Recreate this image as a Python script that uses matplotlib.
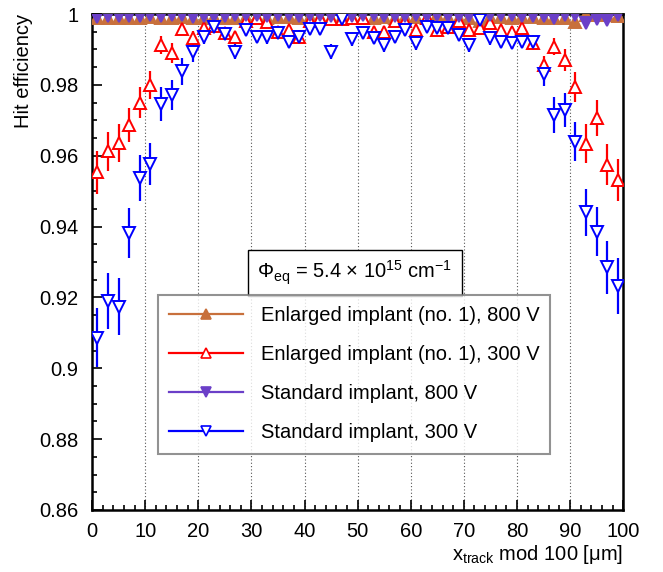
import numpy as np
import matplotlib.pyplot as plt
from matplotlib.ticker import MultipleLocator, FuncFormatter

plt.rcParams['font.family'] = ['Liberation Sans', 'DejaVu Sans']
plt.rcParams['mathtext.fontset'] = 'custom'
plt.rcParams['mathtext.rm'] = 'Liberation Sans'
plt.rcParams['mathtext.it'] = 'Liberation Sans:italic'

# bin centres, 2 um bins
x = np.arange(1, 100, 2)

enl_800 = [0.9988, 0.9988, 0.9989, 0.9988, 0.9990, 0.9992, 0.9989, 0.9990, 0.9991, 0.9988,
           0.9990, 0.9992, 0.9989, 0.9990, 0.9991, 0.9992, 0.9990, 0.9991, 0.9992, 0.9990,
           0.9991, 0.9992, 0.9990, 0.9991, 0.9992, 0.9990, 0.9988, 0.9991, 0.9988, 0.9991,
           0.9992, 0.9990, 0.9998, 0.9991, 0.9990, 0.9990, 0.9980, 0.9991, 0.9992, 0.9990,
           0.9991, 0.9991, 0.9990, 0.9989, 0.9990, 0.9978, 0.9997, 0.9997, 0.9997, 0.9995]
enl_800_err = [0.0003] * 50

enl_300 = [0.9553, 0.9612, 0.9636, 0.9686, 0.9750, 0.9800, 0.9913, 0.9889, 0.9958, 0.9931,
           0.9960, 0.9966, 0.9946, 0.9936, 0.9980, 0.9988, 0.9978, 0.9950, 0.9955, 0.9936,
           0.9980, 0.9988, 0.9985, 0.9985, 0.9988, 0.9988, 0.9950, 0.9950, 0.9980, 0.9980,
           0.9955, 0.9988, 0.9955, 0.9963, 0.9980, 0.9955, 0.9960, 0.9974, 0.9955, 0.9948,
           0.9960, 0.9917, 0.9856, 0.9908, 0.9870, 0.9794, 0.9634, 0.9706, 0.9575, 0.9532]
enl_300_err = [0.0060, 0.0054, 0.0054, 0.0048, 0.0044, 0.0040, 0.0025, 0.0028, 0.0018, 0.0020,
               0.0016, 0.0015, 0.0016, 0.0016, 0.0012, 0.0012, 0.0012, 0.0015, 0.0015, 0.0016,
               0.0012, 0.0012, 0.0012, 0.0012, 0.0012, 0.0012, 0.0015, 0.0015, 0.0012, 0.0012,
               0.0015, 0.0012, 0.0015, 0.0014, 0.0012, 0.0015, 0.0014, 0.0013, 0.0015, 0.0015,
               0.0014, 0.0018, 0.0026, 0.0025, 0.0030, 0.0042, 0.0055, 0.0050, 0.0058, 0.0060]

std_800 = [0.9992, 0.9993, 0.9993, 0.9993, 0.9995, 0.9997, 0.9994, 0.9997, 0.9997, 0.9992,
           0.9995, 0.9995, 0.9994, 0.9996, 0.9996, 0.9996, 0.9994, 0.9997, 0.9997, 0.9995,
           0.9996, 0.9997, 0.9995, 0.9996, 0.9994, 0.9996, 0.9996, 0.9993, 0.9995, 0.9994,
           0.9996, 0.9995, 0.9996, 0.9994, 0.9993, 0.9993, 0.9990, 0.9996, 0.9996, 0.9996,
           0.9994, 0.9994, 0.9994, 0.9988, 0.9997, 0.9996, 0.9976, 0.9985, 0.9983, 0.9997]
std_800_err = [0.0003] * 50

std_300 = [0.9086, 0.9190, 0.9174, 0.9382, 0.9537, 0.9577, 0.9746, 0.9772, 0.9838, 0.9894,
           0.9936, 0.9964, 0.9944, 0.9894, 0.9955, 0.9936, 0.9934, 0.9946, 0.9922, 0.9936,
           0.9957, 0.9957, 0.9894, 0.9985, 0.9929, 0.9946, 0.9932, 0.9913, 0.9936, 0.9955,
           0.9917, 0.9964, 0.9960, 0.9960, 0.9941, 0.9913, 0.9983, 0.9931, 0.9922, 0.9919,
           0.9922, 0.9922, 0.9831, 0.9715, 0.9730, 0.9640, 0.9440, 0.9386, 0.9285, 0.9232]
std_300_err = [0.0083, 0.0079, 0.0080, 0.0070, 0.0065, 0.0060, 0.0047, 0.0042, 0.0037, 0.0030,
               0.0020, 0.0016, 0.0018, 0.0022, 0.0016, 0.0018, 0.0018, 0.0017, 0.0019, 0.0018,
               0.0016, 0.0016, 0.0022, 0.0012, 0.0018, 0.0017, 0.0018, 0.0019, 0.0018, 0.0016,
               0.0019, 0.0015, 0.0016, 0.0016, 0.0017, 0.0019, 0.0013, 0.0018, 0.0019, 0.0019,
               0.0019, 0.0019, 0.0034, 0.0050, 0.0048, 0.0055, 0.0067, 0.0070, 0.0075, 0.0079]

labels = ['Enlarged implant (no. 1), 800 V', 'Enlarged implant (no. 1), 300 V',
          'Standard implant, 800 V', 'Standard implant, 300 V']

FS = 14.5

fig = plt.figure(figsize=(6.63, 5.72), dpi=100)
ax = fig.add_axes([0.1388, 0.1084, 0.8012, 0.8671])

for xv in range(10, 100, 10):
    ax.axvline(xv, color='#555555', linestyle=(0, (1, 2)), linewidth=0.8, zorder=0)

series = [
    (enl_800, enl_800_err, '^', '#c8703c', '#c8703c'),
    (enl_300, enl_300_err, '^', '#ff0000', 'white'),
    (std_800, std_800_err, 'v', '#6b3fc8', '#6b3fc8'),
    (std_300, std_300_err, 'v', '#0000ff', 'white'),
]
handles = []
for (y, e, m, c, fc), lab in zip(series, labels):
    ax.errorbar(x, y, yerr=e, fmt='none', ecolor=c, elinewidth=1.6, capsize=0, zorder=2)
    ax.plot(x, y, linestyle='none', marker=m, markersize=8.5, color=c,
            markerfacecolor=fc, markeredgewidth=1.4, zorder=3)
    h, = ax.plot([], [], color=c, linewidth=1.6, marker=m, markersize=6.5,
                 markerfacecolor=fc, markeredgewidth=1.2, label=lab)
    handles.append(h)

ax.set_xlim(0, 100)
ax.set_ylim(0.86, 1.0)
ax.xaxis.set_major_locator(MultipleLocator(10))
ax.xaxis.set_minor_locator(MultipleLocator(2))
ax.yaxis.set_major_locator(MultipleLocator(0.02))
ax.yaxis.set_minor_locator(MultipleLocator(0.005))
ax.yaxis.set_major_formatter(FuncFormatter(lambda v, p: f'{v:g}'))
ax.tick_params(which='both', direction='in', top=False, right=False,
               labelsize=FS, width=1.2, color='black')
ax.tick_params(which='major', length=7)
ax.tick_params(axis='y', which='major', pad=10)
ax.tick_params(axis='x', which='major', pad=9)
ax.tick_params(which='minor', length=3.5)
for s in ax.spines.values():
    s.set_linewidth(1.8)

ax.set_xlabel(r'x$_{\rm track}$ mod 100 [μm]', loc='right', fontsize=FS, labelpad=1)
ax.set_ylabel('Hit efficiency', loc='top', fontsize=FS, labelpad=4)

ax.text(0.495, 0.478, r'$\Phi_{\rm eq}$ = 5.4 $\times$ 10$^{15}$ cm$^{-1}$',
        transform=ax.transAxes, ha='center', va='center', fontsize=FS,
        bbox=dict(boxstyle='square,pad=0.45', facecolor='white', edgecolor='black',
                  linewidth=1.0), zorder=5)

leg = ax.legend(handles=handles, loc='upper left', bbox_to_anchor=(0.124, 0.4335),
                fontsize=FS, frameon=True, fancybox=False, edgecolor='#777777',
                handlelength=3.7, handletextpad=0.85, labelspacing=1.0,
                borderpad=0.55, borderaxespad=0)
leg.get_frame().set_linewidth(1.5)
leg.set_zorder(5)

fig.savefig('out.png', dpi=100)
